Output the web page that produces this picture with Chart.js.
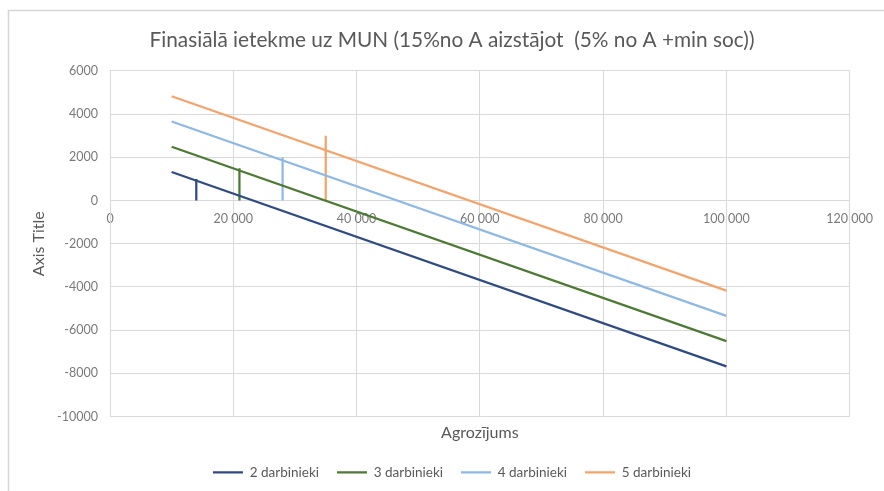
<!DOCTYPE html>
<html>
<head>
<meta charset="utf-8">
<script src="https://cdn.jsdelivr.net/npm/chart.js@4/dist/chart.umd.min.js"></script>
<style>
  html, body { margin: 0; padding: 0; background: #ffffff; }
  #c { display: block; }
</style>
</head>
<body>
<canvas id="c" width="884" height="491"></canvas>
<script>
// ---- data ----
const chartTitle = 'Finasiālā ietekme uz MUN (15%no A aizstājot  (5% no A +min soc))';
const xAxisTitle = 'Agrozījums';
const yAxisTitle = 'Axis Title';
const seriesNames = ['2 darbinieki', '3 darbinieki', '4 darbinieki', '5 darbinieki'];
const turnover = [10000, 100000];
const impact2 = [1320, -7680];
const impact3 = [2490, -6510];
const impact4 = [3660, -5340];
const impact5 = [4830, -4170];
const markerX = [14000, 21000, 28000, 35000];
const markerTop = [1000, 1500, 2000, 3000];
const xTickValues = [0, 20000, 40000, 60000, 80000, 100000, 120000];
const xTickLabels = ['0', '20 000', '40 000', '60 000', '80 000', '100 000', '120 000'];
const yTickValues = [-10000, -8000, -6000, -4000, -2000, 0, 2000, 4000, 6000];
const yTickLabels = ['-10000', '-8000', '-6000', '-4000', '-2000', '0', '2000', '4000', '6000'];

// ---- styles ----
const colors = ['#2E4B85', '#4B7A33', '#8EB8E6', '#F4A36A'];
const FONT = 'Lato, "Open Sans", sans-serif';
const GRID = '#d9d9d9';

const seriesValues = [impact2, impact3, impact4, impact5];
const datasets = [];
seriesNames.forEach((name, i) => {
  datasets.push({
    label: name,
    data: turnover.map((x, j) => ({ x: x, y: seriesValues[i][j] })),
    borderColor: colors[i],
    backgroundColor: colors[i],
    borderWidth: 2.25,
    pointRadius: 0,
    fill: false,
    tension: 0
  });
});
markerX.forEach((mx, i) => {
  datasets.push({
    label: seriesNames[i] + ' marker',
    data: [{ x: mx, y: 0 }, { x: mx, y: markerTop[i] }],
    borderColor: colors[i],
    backgroundColor: colors[i],
    borderWidth: 2.25,
    pointRadius: 0,
    fill: false
  });
});

const framePlugin = {
  id: 'frame',
  beforeDraw(chart) {
    const ctx = chart.ctx;
    ctx.save();
    ctx.fillStyle = '#ffffff';
    ctx.fillRect(0, 0, chart.width, chart.height);
    ctx.strokeStyle = '#d6d6d6';
    ctx.lineWidth = 1.5;
    ctx.beginPath();
    ctx.moveTo(8.5, chart.height);
    ctx.lineTo(8.5, 10.5);
    ctx.lineTo(chart.width, 10.5);
    ctx.stroke();
    ctx.restore();
  }
};

new Chart(document.getElementById('c'), {
  type: 'line',
  data: { datasets: datasets },
  plugins: [framePlugin],
  options: {
    responsive: false,
    animation: false,
    devicePixelRatio: 1,
    layout: { padding: { left: 20, right: 0, top: 0, bottom: 2 } },
    scales: {
      x: {
        type: 'linear',
        position: { y: 0 },
        min: 0, max: 120000,
        afterBuildTicks: (s) => { s.ticks = xTickValues.map(v => ({ value: v })); },
        grid: { color: GRID, lineWidth: 1, drawTicks: false },
        border: { display: true, color: GRID },
        ticks: {
          padding: 11,
          autoSkip: false,
          maxRotation: 0,
          color: '#7a7a7a',
          font: { family: FONT, size: 12.5 },
          callback: (v) => xTickLabels[xTickValues.indexOf(v)]
        }
      },
      x2: {
        type: 'linear',
        axis: 'x',
        position: 'bottom',
        min: 0, max: 1,
        grid: { display: false, drawTicks: false },
        border: { display: false },
        ticks: { display: false },
        title: {
          display: true,
          text: xAxisTitle,
          color: '#595959',
          font: { family: FONT, size: 16 },
          padding: { top: 6.4, bottom: 5 }
        },
        afterFit: (s) => { s.height = 31; }
      },
      y: {
        type: 'linear',
        position: 'left',
        min: -10000, max: 6000,
        afterBuildTicks: (s) => { s.ticks = yTickValues.map(v => ({ value: v })); },
        grid: { color: GRID, lineWidth: 1, drawTicks: false },
        border: { display: true, color: GRID },
        ticks: {
          padding: 12,
          color: '#7a7a7a',
          font: { family: FONT, size: 12.5 },
          callback: (v) => yTickLabels[yTickValues.indexOf(v)]
        },
        title: {
          display: true,
          text: yAxisTitle,
          color: '#595959',
          font: { family: FONT, size: 16 },
          padding: { top: 9, bottom: 0 }
        },
        afterFit: (s) => { s.width = 90; }
      },
      y2: {
        type: 'linear',
        position: 'right',
        grid: { display: false, drawTicks: false },
        border: { display: false },
        ticks: { display: false },
        afterFit: (s) => { s.width = 34; }
      }
    },
    plugins: {
      title: {
        display: true,
        text: chartTitle,
        color: '#595959',
        font: { family: FONT, size: 20.8, weight: 'normal' },
        padding: { top: 27.5, bottom: 18.5 }
      },
      legend: {
        display: true,
        position: 'bottom',
        labels: {
          usePointStyle: true,
          pointStyle: 'line',
          pointStyleWidth: 30,
          padding: 18,
          color: '#595959',
          font: { family: FONT, size: 13.5 },
          filter: (item) => item.datasetIndex < seriesNames.length
        }
      },
      tooltip: { enabled: false }
    }
  }
});
</script>
</body>
</html>
